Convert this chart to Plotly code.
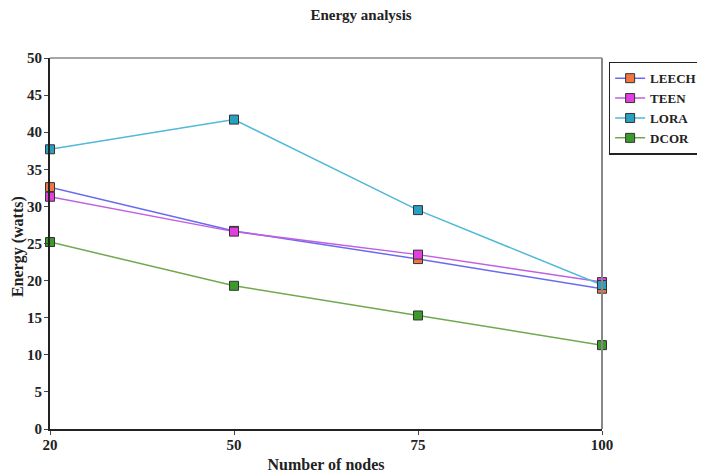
import plotly.graph_objects as go

nodes = ["20", "50", "75", "100"]
leech = [32.6, 26.7, 22.9, 18.9]
teen = [31.3, 26.6, 23.5, 19.8]
lora = [37.7, 41.7, 29.5, 19.4]
dcor = [25.2, 19.3, 15.3, 11.3]

series = [
    ("LEECH", leech, "#6a6af0", "#f07840"),
    ("TEEN", teen, "#c060e0", "#e040e0"),
    ("LORA", lora, "#50b8d8", "#2aa0c0"),
    ("DCOR", dcor, "#70a850", "#3a9a2a"),
]

fig = go.Figure()
for name, vals, lc, mc in series:
    fig.add_trace(go.Scatter(
        x=nodes, y=vals, name="<b>" + name + "</b>", mode="lines+markers",
        line=dict(color=lc, width=1.5), cliponaxis=False,
        marker=dict(symbol="square", size=9, color=mc, line=dict(color="#333333", width=1)),
    ))

font_family = "Liberation Serif, Times New Roman, serif"
fig.update_layout(
    width=697, height=466,
    margin=dict(l=42, r=103, t=50, b=45, autoexpand=False),
    paper_bgcolor="white", plot_bgcolor="white",
    title=dict(text="<b>Energy analysis</b>", x=0.5065, xref="container", xanchor="center",
               y=0.985, yanchor="middle",
               font=dict(family=font_family, size=15, color="#222")),
    font=dict(family=font_family, size=13, color="#222"),
    showlegend=True,
    legend=dict(x=1.012, y=0.99, xanchor="left", yanchor="top",
                bordercolor="#222", borderwidth=1.5, bgcolor="white",
                font=dict(family=font_family, size=13, color="#222"),
                itemwidth=30, tracegroupgap=0),
    xaxis=dict(type="category", range=[0, 3], showgrid=False, zeroline=False,
               showline=True, linecolor="#222", linewidth=2, mirror=False,
               ticks="outside", ticklen=4, tickcolor="#444", automargin=False,
               ticklabelstandoff=-3,
               tickfont=dict(family=font_family, size=15, color="#222"),
               title=dict(text="<b>Number of nodes</b>", font=dict(family=font_family, size=16), standoff=7),
               tickprefix="<b>", ticksuffix="</b>"),
    yaxis=dict(range=[0, 50], dtick=5, showgrid=False, zeroline=False,
               showline=True, linecolor="#222", linewidth=2, automargin=False,
               ticks="outside", ticklen=4, tickcolor="#444", ticklabelstandoff=-1,
               tickfont=dict(family=font_family, size=15, color="#222"),
               tickprefix="<b>", ticksuffix="</b>"),
)
fig.add_annotation(text="<b>Energy (watts)</b>", xref="paper", yref="paper",
                   x=-0.058, y=0.493, xanchor="center", yanchor="middle",
                   textangle=-90, showarrow=False,
                   font=dict(family=font_family, size=16, color="#222"))
# gray top and right frame
fig.add_shape(type="line", xref="paper", yref="paper", x0=0, x1=1, y0=1, y1=1,
              line=dict(color="#888", width=1.5))
fig.add_shape(type="line", xref="paper", yref="paper", x0=1, x1=1, y0=0, y1=1,
              line=dict(color="#888", width=2))

fig.write_html("out.html")
